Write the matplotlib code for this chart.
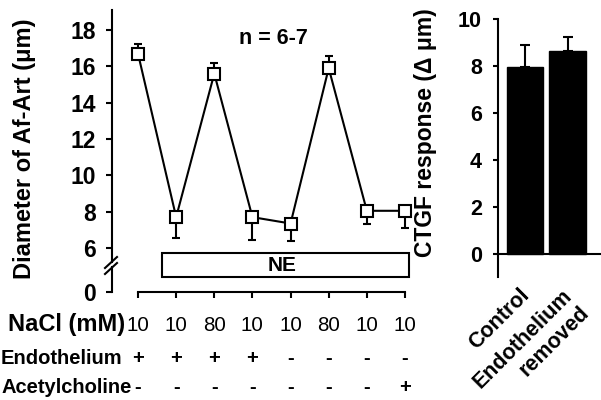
import matplotlib
matplotlib.use("Agg")
import matplotlib.pyplot as plt
from matplotlib.patches import Rectangle
from matplotlib.lines import Line2D
import matplotlib.transforms as mtransforms

plt.rcParams['font.family'] = ['Liberation Sans', 'DejaVu Sans']
plt.rcParams['font.weight'] = 'bold'

# ---------------- data ----------------
steps = [1, 2, 3, 4, 5, 6, 7, 8]
diameter = [16.7, 7.7, 15.6, 7.7, 7.35, 15.9, 8.05, 8.05]
err_low = [0.0, 1.17, 0.0, 1.23, 0.95, 0.0, 0.71, 0.92]
err_high = [0.55, 0.0, 0.6, 0.0, 0.0, 0.66, 0.0, 0.0]
nacl = ['10', '10', '80', '10', '10', '80', '10', '10']
endothelium = ['+', '+', '+', '+', '-', '-', '-', '-']
acetylcholine = ['-', '-', '-', '-', '-', '-', '-', '+']
ne_span = (1.63, 8.1)
left_yticks = [6, 8, 10, 12, 14, 16, 18]

bar_labels = ['Control', 'Endothelium\nremoved']
bar_values = [7.95, 8.62]
bar_err = [0.95, 0.61]
right_yticks = [0, 2, 4, 6, 8, 10]

# ---------------- layout helpers ----------------
W, H = 601, 400
fig = plt.figure(figsize=(W / 100, H / 100), dpi=100)

def fx(px):
    return px / W

def fy(py):
    return 1 - py / H

LW = 1.5
X0, X1 = 0.318, 8.184

# top (main) segment of left panel
ax = fig.add_axes([fx(112), fy(262), fx(412) - fx(112), fy(10) - fy(262)])
ax.set_xlim(X0, X1)
ax.set_ylim(5.232, 19.10)
for s in ['top', 'right', 'bottom']:
    ax.spines[s].set_visible(False)
ax.spines['left'].set_linewidth(LW)
ax.set_xticks([])
ax.set_yticks(left_yticks)
ax.tick_params(axis='y', direction='out', length=4.3, width=LW, pad=7.5, labelsize=16.5)
ax.patch.set_alpha(0)

ax.errorbar(steps, diameter, yerr=[err_low, err_high], fmt='none', ecolor='black',
            elinewidth=LW, capsize=2.9, capthick=LW, zorder=2)
ax.plot(steps, diameter, color='black', lw=LW, marker='s', markersize=8,
        markerfacecolor='white', markeredgecolor='black', markeredgewidth=LW, zorder=3,
        clip_on=False)

fig.text(fx(273), fy(38), 'n = 6-7', ha='center', va='center',
         fontsize=15.5, fontweight='bold')

ne_bottom, ne_top = 4.406, 5.727
ax.add_patch(Rectangle((ne_span[0], ne_bottom), ne_span[1] - ne_span[0], ne_top - ne_bottom,
                       facecolor='white', edgecolor='black', lw=LW, clip_on=False, zorder=4))
ax.text((ne_span[0] + ne_span[1]) / 2 - 0.08, (ne_bottom + ne_top) / 2, 'NE', ha='center', va='center',
        fontsize=15, fontweight='bold', zorder=5, clip_on=False)

ax.set_ylabel('Diameter of Af-Art (\u03bcm)', fontsize=17, fontweight='bold')
ax.yaxis.set_label_coords(fx(36), fy(149), transform=fig.transFigure)

# bottom (0) segment of left panel
axb = fig.add_axes([fx(112), fy(292), fx(412) - fx(112), fy(267) - fy(292)])
axb.set_xlim(X0, X1)
axb.set_ylim(0, 25 / 18.17)
axb.patch.set_alpha(0)
for s in ['top', 'right']:
    axb.spines[s].set_visible(False)
axb.spines['left'].set_linewidth(LW)
axb.spines['bottom'].set_linewidth(LW)
axb.spines['bottom'].set_bounds(steps[0], steps[-1])
axb.set_yticks([0])
axb.set_xticks(steps)
axb.set_xticklabels([])
axb.tick_params(axis='y', direction='out', length=4.3, width=LW, pad=7.5, labelsize=16.5)
axb.tick_params(axis='x', direction='out', length=4.3, width=LW)

# axis break marks
for (xa, ya, xb, yb) in [(105, 268, 117, 257), (105, 274, 117, 263)]:
    fig.add_artist(Line2D([fx(xa), fx(xb)], [fy(ya), fy(yb)], color='black', lw=LW))

# condition rows
tr = mtransforms.blended_transform_factory(axb.transData, fig.transFigure)
for x, v in zip(steps, nacl):
    axb.text(x, fy(330.7), v, transform=tr, ha='center', va='baseline', fontsize=14.8,
             fontweight='normal', family=['Liberation Sans Narrow', 'Liberation Sans'])
for x, v in zip(steps, endothelium):
    axb.text(x, fy(364), v, transform=tr, ha='center', va='baseline', fontsize=14.5,
             fontweight='bold')
for x, v in zip(steps, acetylcholine):
    axb.text(x, fy(392.7), v, transform=tr, ha='center', va='baseline', fontsize=14.5,
             fontweight='bold')
fig.text(fx(125), fy(330.7), 'NaCl (mM)', ha='right', va='baseline', fontsize=17, fontweight='bold')
fig.text(fx(1), fy(364), 'Endothelium', ha='left', va='baseline', fontsize=14.5, fontweight='bold')
fig.text(fx(1), fy(392.7), 'Acetylcholine', ha='left', va='baseline', fontsize=14.5, fontweight='bold')

# ---------------- right panel ----------------
axr = fig.add_axes([fx(498), fy(277), fx(601) - fx(498), fy(19) - fy(277)])
axr.set_ylim(-0.98, 10)
axr.set_xlim(-0.632, 1.78)
axr.patch.set_alpha(0)
for s in ['top', 'right', 'bottom']:
    axr.spines[s].set_visible(False)
axr.spines['left'].set_linewidth(LW)
axr.set_yticks(right_yticks)
axr.set_xticks([])
axr.tick_params(axis='y', direction='out', length=3.6, width=LW, pad=8, labelsize=15.5)
xs = list(range(len(bar_labels)))
axr.bar(xs, bar_values, width=0.86, color='black', edgecolor='black', zorder=2)
axr.errorbar(xs, bar_values, yerr=[[0] * len(bar_err), bar_err], fmt='none', ecolor='black',
             elinewidth=LW, capsize=3.6, capthick=LW, zorder=3)
axr.axhline(0, color='black', lw=LW, zorder=4)
axr.set_ylabel('CTGF response (\u0394 \u03bcm)', fontsize=16.5, fontweight='bold')
axr.yaxis.set_label_coords(fx(437), fy(133), transform=fig.transFigure)

# rotated category labels (each line drawn separately, right aligned)
trr = mtransforms.blended_transform_factory(axr.transData, fig.transFigure)
line_step = 24 / 100  # inches between lines
for x, lbl in zip(xs, bar_labels):
    for j, line in enumerate(lbl.split('\n')):
        d = j * line_step * 0.7071
        off = mtransforms.ScaledTranslation(-6 / 100 + d, -d, fig.dpi_scale_trans)
        axr.text(x, fy(285), line, transform=trr + off, rotation=45, rotation_mode='anchor',
                 ha='right', va='top', fontsize=15.5, fontweight='bold')

fig.savefig('out.png', dpi=100)
